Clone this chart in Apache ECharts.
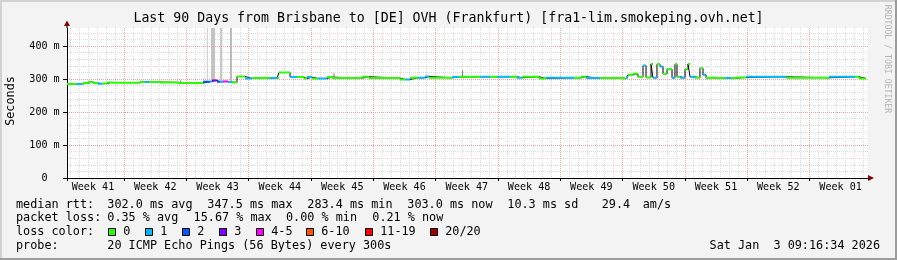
<!DOCTYPE html>
<html><head><meta charset="utf-8">
<script src="https://cdn.jsdelivr.net/npm/echarts@6/dist/echarts.min.js"></script>
<style>html,body{margin:0;padding:0;background:#f3f3f3}#c{width:897px;height:260px}</style>
</head><body><div id="c"></div>
<script>
// ---------------- data ----------------
const titleText = 'Last 90 Days from Brisbane to [DE] OVH (Frankfurt) [fra1-lim.smokeping.ovh.net]';
const yAxisTitle = 'Seconds';
const weekLabels = ['Week 41','Week 42','Week 43','Week 44','Week 45','Week 46','Week 47','Week 48','Week 49','Week 50','Week 51','Week 52','Week 01'];
const firstWeekStartDay = 6.42;          // day offset (from axis start) of the first week boundary
const spanDays = 90;
const yTickValues = [0, 100, 200, 300, 400];
const yMax = 455;

// median RTT (ms) as steps: start day, value, loss count class index
const stepDay  = [0,1.12,1.69,1.80,2.36,2.92,3.48,3.93,4.49,5.06,8.20,8.76,9.21,10.45,12.47,15.28,16.07,16.29,16.85,17.19,17.53,18.09,18.54,19.10,20.00,20.79,22.81,23.60,23.82,25.06,25.84,26.63,26.97,27.53,28.20,29.21,29.78,33.15,33.93,37.42,37.98,38.54,39.44,40.22,40.67,43.26,44.04,46.40,47.53,48.31,49.78,50.56,51.12,53.03,53.82,56.97,57.75,58.31,59.89,62.36,62.81,63.03,63.60,64.16,64.72,65.06,65.62,65.84,66.29,66.63,66.97,67.42,67.98,68.31,68.54,68.88,69.44,69.78,70.00,70.56,71.12,71.46,71.80,72.92,74.00,74.60,75.17,76.29,80.79,85.62,88.54,88.99];
const stepRtt  = [285,285,285,288,291,288,286,287,290,289,291,291,291,290,288,292,293,296,292,292,293,291,290,308,302,303,303,303,320,306,306,302,306,302,302,306,303,307,303,299,299,304,304,308,304,306,307,307,307,307,307,304,307,302,304,304,307,303,303,302,304,313,316,307,341,305,346,304,345,338,316,330,304,345,307,304,330,346,307,304,333,313,304,303,303,303,305,307,304,307,307,302];
const stepLoss = [0,1,0,0,0,0,1,0,0,0,0,1,0,0,0,2,1,3,2,1,4,1,0,0,1,0,1,0,0,1,0,0,1,0,1,0,0,0,0,0,1,0,1,1,0,1,0,1,0,1,0,1,0,0,1,0,0,1,0,0,1,0,0,0,1,0,0,1,0,1,0,0,1,0,0,1,0,0,1,0,0,1,0,0,1,0,0,1,0,1,0,0];
const dataEndDay = 89.78;

// smoke (ping spread): start day, end day, low ms, high ms, density 0..1
const smokeStart   = [12.70, 15.70, 16.18, 17.19, 18.31, 29.89, 44.38];
const smokeEnd     = [12.81, 15.84, 16.63, 17.42, 18.54, 30.11, 44.49];
const smokeLow     = [288, 292, 296, 292, 291, 303, 308];
const smokeHigh    = [296, 460, 460, 460, 460, 318, 327];
const smokeDensity = [0.55, 0.12, 0.2, 0.17, 0.24, 0.22, 0.56];

const lossLabels = ['0','1','2','3','4-5','6-10','11-19','20/20'];
const lossColors = ['#26ff00','#00b8ff','#0059ff','#7e00ff','#ff00ff','#ff5500','#ff0000','#a10000'];

const rttStats  = ['302.0 ms avg','347.5 ms max','283.4 ms min','303.0 ms now','10.3 ms sd','29.4','am/s'];
const lossStats = ['0.35 % avg','15.67 % max','0.00 % min','0.21 % now'];
const probeText = '20 ICMP Echo Pings (56 Bytes) every 300s';
const dateText  = 'Sat Jan  3 09:16:34 2026';
const sideText  = 'RRDTOOL / TOBI OETIKER';

// ---------------- layout ----------------
const MONO = 'DejaVu Sans Mono';
const F = '11.8px "' + MONO + '"';
const AXF = 10.1;
const PL = 67, PT = 28, PW = 801, PH = 150;

const weekBounds = weekLabels.slice(1).map((_, i) => firstWeekStartDay + 7 * i);
const weekMids = weekLabels.map((_, i) => firstWeekStartDay - 3.5 + 7 * i);
const dayLines = [];
for (let d = firstWeekStartDay - 7; d < spanDays; d += 1) if (d > 0) dayLines.push(+d.toFixed(3));
const minorY = [];
for (let v = 20; v < yMax; v += 20) minorY.push(v);

// colored median segments per loss class
const segData = lossColors.map(() => []);
for (let i = 0; i < stepDay.length; i++) {
  const x0 = stepDay[i], x1 = i + 1 < stepDay.length ? stepDay[i + 1] : dataEndDay;
  segData[stepLoss[i]].push([x0, stepRtt[i]], [x1, stepRtt[i]], ['-', '-']);
}
const stepLine = stepDay.map((d, i) => [d, stepRtt[i]]);
stepLine.push([dataEndDay, stepRtt[stepRtt.length - 1]]);

const shade = d => { const g = Math.round(235 - d * 200); return 'rgb(' + g + ',' + g + ',' + g + ')'; };

const graphics = [];
function txt(x, y, s, opts) {
  graphics.push({ type: 'text', x: x, y: y, silent: true, rotation: (opts && opts.rot) || 0,
    style: { text: s, font: (opts && opts.font) || F, fill: (opts && opts.fill) || '#000',
      align: (opts && opts.align) || 'left', verticalAlign: 'middle' } });
}
// frame shading
graphics.push({ type: 'rect', shape: { x: 0, y: 0, width: 897, height: 2 }, style: { fill: '#d2d2d2' }, silent: true });
graphics.push({ type: 'rect', shape: { x: 0, y: 0, width: 2, height: 260 }, style: { fill: '#d2d2d2' }, silent: true });
graphics.push({ type: 'rect', shape: { x: 0, y: 258, width: 897, height: 2 }, style: { fill: '#9c9c9c' }, silent: true });
graphics.push({ type: 'rect', shape: { x: 895, y: 0, width: 2, height: 260 }, style: { fill: '#9c9c9c' }, silent: true });
// title, axis title, side text
txt(448.5, 19, titleText, { font: '13.25px "' + MONO + '"', align: 'center' });
txt(10.5, 101, yAxisTitle, { rot: Math.PI / 2, align: 'center' });
txt(887, 59, sideText, { rot: -Math.PI / 2, align: 'center', font: '8.2px "' + MONO + '"', fill: '#b4b4b4' });
// arrows
graphics.push({ type: 'polygon', shape: { points: [[868, 175], [874, 178], [868, 181]] }, style: { fill: '#7f0000' }, silent: true, z: 10 });
graphics.push({ type: 'polygon', shape: { points: [[64, 26], [67, 20.5], [70, 26]] }, style: { fill: '#7f0000' }, silent: true, z: 10 });
graphics.push({ type: 'line', shape: { x1: 67, y1: 25, x2: 67, y2: 28 }, style: { stroke: '#000', lineWidth: 1 }, silent: true });
// legend rows
const r1 = 204.5, r2 = 218.3, r3 = 232.3, r4 = 246;
txt(16, r1, 'median rtt:');
[107.3, 207.3, 307.3, 407.3, 507.3, 601.7, 642.7].forEach((x, i) => txt(x, r1, rttStats[i]));
txt(16, r2, 'packet loss:');
[107.3, 193.6, 286, 372.3].forEach((x, i) => txt(x, r2, lossStats[i]));
txt(16, r3, 'loss color:');
const sqX = [108.5, 145.5, 182.5, 219.5, 256.5, 306.5, 365.5, 430.5];
sqX.forEach((x, i) => {
  graphics.push({ type: 'rect', shape: { x: x, y: 228.5, width: 7, height: 7 }, style: { fill: lossColors[i], stroke: '#000', lineWidth: 1 }, silent: true });
  txt(x + 14.7, r3, lossLabels[i]);
});
txt(16, r4, 'probe:');
txt(107.3, r4, probeText);
txt(880, r4, dateText, { align: 'right' });

const chart = echarts.init(document.getElementById('c'), null, { renderer: 'canvas' });
chart.setOption({
  animation: false,
  backgroundColor: '#f3f3f3',
  grid: { left: PL, top: PT, width: PW, height: PH, show: true, backgroundColor: '#ffffff', borderWidth: 0 },
  xAxis: [
    { type: 'value', min: 0, max: spanDays, z: 3,
      axisLine: { show: true, onZero: false, lineStyle: { color: '#000', width: 1 } },
      axisTick: { show: true, inside: false, length: 3, customValues: [0].concat(weekBounds), lineStyle: { color: '#000' } },
      axisLabel: { show: true, customValues: weekMids, margin: 4.5, fontFamily: MONO, fontSize: AXF, color: '#000',
        formatter: v => { let k = 0, b = 1e9; weekMids.forEach((m, i) => { if (Math.abs(m - v) < b) { b = Math.abs(m - v); k = i; } }); return weekLabels[k]; } },
      splitLine: { show: true, lineStyle: { color: '#f2a3a3', type: [1, 1], width: 1 } } },
    { type: 'value', min: 0, max: spanDays, z: 1, position: 'bottom',
      axisLine: { show: false }, axisLabel: { show: false },
      axisTick: { show: false, customValues: dayLines },
      splitLine: { show: true, lineStyle: { color: '#dcdcdc', type: [1, 1], width: 1 } } }
  ],
  yAxis: [
    { type: 'value', min: 0, max: yMax, z: 3,
      axisLine: { show: true, onZero: false, lineStyle: { color: '#000', width: 1 } },
      axisTick: { show: true, length: 4, customValues: yTickValues, lineStyle: { color: '#000' } },
      axisLabel: { show: true, customValues: yTickValues, align: 'center', margin: 22.5, fontFamily: MONO, fontSize: AXF, color: '#000',
        formatter: v => v === 0 ? '0' : v + ' m' },
      splitLine: { show: true, lineStyle: { color: '#f2a3a3', type: [1, 1], width: 1 } } },
    { type: 'value', min: 0, max: yMax, z: 1,
      axisLine: { show: false }, axisLabel: { show: false },
      axisTick: { show: false, customValues: minorY },
      splitLine: { show: true, lineStyle: { color: '#dcdcdc', type: [1, 1], width: 1 } } }
  ],
  series: [
    { type: 'custom', z: 2, xAxisIndex: 0, yAxisIndex: 0, silent: true,
      encode: { x: [0, 1], y: [2, 3] },
      data: smokeStart.map((s, i) => [s, smokeEnd[i], smokeLow[i], smokeHigh[i], smokeDensity[i]]),
      renderItem: (params, api) => {
        const p0 = api.coord([api.value(0), Math.min(api.value(3), yMax)]);
        const p1 = api.coord([api.value(1), api.value(2)]);
        return { type: 'rect', shape: { x: p0[0], y: p0[1], width: Math.max(1, p1[0] - p0[0]), height: p1[1] - p0[1] },
          style: { fill: shade(api.value(4)) } };
      } },
    { type: 'line', z: 3, step: 'end', data: stepLine, showSymbol: false, silent: true,
      lineStyle: { color: '#000', width: 1 } }
  ].concat(lossColors.map((c, k) => ({
    type: 'line', z: 4, data: segData[k], showSymbol: false, connectNulls: false, silent: true,
    lineStyle: { color: c, width: 2, cap: 'butt' }
  }))),
  graphic: graphics
});
</script></body></html>
